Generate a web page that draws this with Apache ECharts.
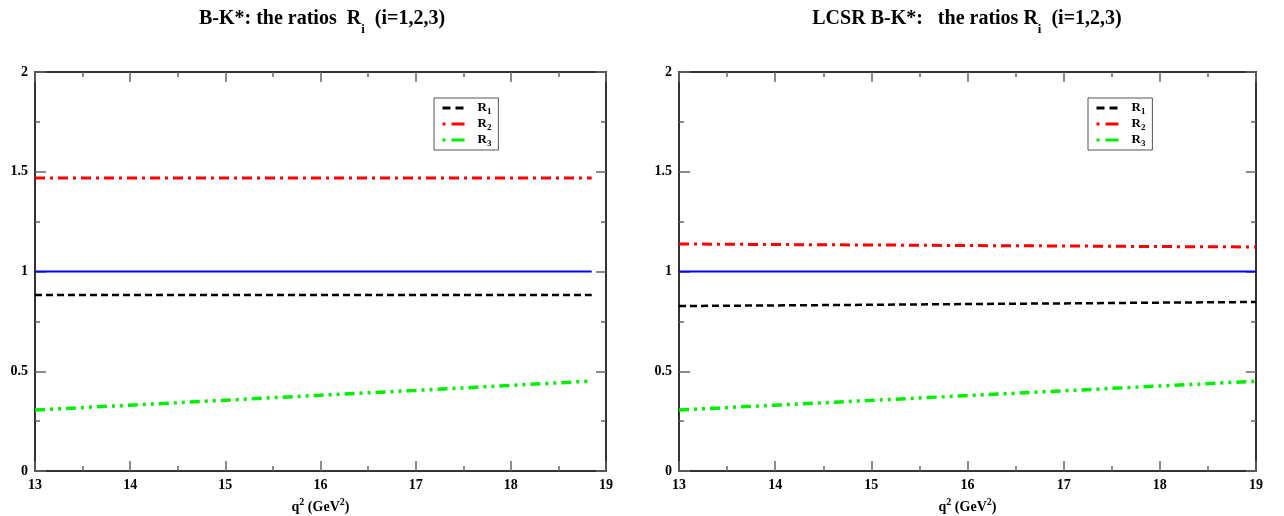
<!DOCTYPE html>
<html>
<head>
<meta charset="utf-8">
<script src="https://cdn.jsdelivr.net/npm/echarts@6/dist/echarts.min.js"></script>
<style>html,body{margin:0;padding:0;background:#fff}#c{width:1284px;height:516px}</style>
</head>
<body>
<div id="c"></div>
<script>
// ---- data ----
const xLeft = [13, 14, 15, 16, 17, 18, 18.85];
const leftR1 = [0.882, 0.882, 0.882, 0.882, 0.882, 0.882, 0.882];
const leftR2 = [1.469, 1.469, 1.469, 1.469, 1.469, 1.469, 1.469];
const leftR3 = [0.306, 0.330, 0.355, 0.380, 0.404, 0.429, 0.451];
const leftUnity = [1, 1, 1, 1, 1, 1, 1];

const xRight = [13, 14, 15, 16, 17, 18, 19];
const rightR1 = [0.827, 0.830, 0.833, 0.837, 0.840, 0.844, 0.847];
const rightR2 = [1.138, 1.135, 1.133, 1.130, 1.128, 1.125, 1.123];
const rightR3 = [0.306, 0.330, 0.354, 0.378, 0.402, 0.426, 0.450];
const rightUnity = [1, 1, 1, 1, 1, 1, 1];

const legendNames = ['R1', 'R2', 'R3'];
const titles = ['B-K*: the ratios  R{sub|i}  (i=1,2,3)', 'LCSR B-K*:   the ratios R{sub|i}  (i=1,2,3)'];
const xName = 'q{sup|2} (GeV{sup|2})';

const FONT = '"Liberation Serif", "DejaVu Serif", serif';

function pairs(xs, ys) { return xs.map((x, i) => [x, ys[i]]); }

const styles = {
  R1: { color: '#000000', width: 2.5, type: [7, 4], legendType: [8, 5] },
  R2: { color: '#ff0000', width: 3, type: [10, 5, 3, 5], legendType: [3, 6, 13, 20] },
  R3: { color: '#00ee00', width: 3.5, type: [10, 5, 3, 5, 3, 5], legendType: [3, 6, 13, 20] },
  unity: { color: '#0000ee', width: 2, type: 'solid' }
};

function mkSeries(name, idx, xs, ys) {
  const s = styles[name];
  return {
    name: name, type: 'line', xAxisIndex: idx, yAxisIndex: idx,
    data: pairs(xs, ys), showSymbol: false, symbol: 'none', smooth: false,
    lineStyle: { color: s.color, width: s.width, type: s.type },
    itemStyle: { color: s.color },
    animation: false, z: name === 'unity' ? 3 : 4
  };
}

const tickStyle = { color: '#666', width: 1.5 };
function xAxisMain(gi) {
  return {
    type: 'value', gridIndex: gi, min: 13, max: 19, interval: 1,
    name: xName, nameLocation: 'middle', nameGap: 26,
    nameTextStyle: {
      fontFamily: FONT, fontWeight: 'bold', fontSize: 14, color: '#000', lineHeight: 20,
      rich: { sup: { fontFamily: FONT, fontWeight: 'bold', fontSize: 10, verticalAlign: 'top', lineHeight: 10, color: '#000' } }
    },
    axisLine: { onZero: false, lineStyle: { color: '#333', width: 2 } },
    axisTick: { inside: true, length: 10, lineStyle: tickStyle },
    minorTick: { show: true, splitNumber: 2, length: 5, lineStyle: tickStyle },
    axisLabel: { fontFamily: FONT, fontWeight: 'bold', fontSize: 14, color: '#000', margin: 7 },
    splitLine: { show: false }
  };
}
function xAxisTop(gi) {
  return {
    type: 'value', gridIndex: gi, min: 13, max: 19, interval: 1, position: 'top',
    axisLine: { onZero: false, lineStyle: { color: '#333', width: 2 } },
    axisTick: { inside: true, length: 10, lineStyle: tickStyle },
    minorTick: { show: true, splitNumber: 2, length: 5, lineStyle: tickStyle },
    axisLabel: { show: false }, splitLine: { show: false }
  };
}
function yAxisMain(gi) {
  return {
    type: 'value', gridIndex: gi, min: 0, max: 2, interval: 0.5,
    axisLine: { onZero: false, lineStyle: { color: '#333', width: 2 } },
    axisTick: { inside: true, length: 11, lineStyle: tickStyle },
    minorTick: { show: true, splitNumber: 2, length: 5, lineStyle: tickStyle },
    axisLabel: { fontFamily: FONT, fontWeight: 'bold', fontSize: 14, color: '#000', margin: 7 },
    splitLine: { show: false }
  };
}
function yAxisRight(gi) {
  return {
    type: 'value', gridIndex: gi, min: 0, max: 2, interval: 0.5, position: 'right',
    axisLine: { onZero: false, lineStyle: { color: '#333', width: 2 } },
    axisTick: { inside: true, length: 10, lineStyle: tickStyle },
    minorTick: { show: true, splitNumber: 2, length: 5, lineStyle: tickStyle },
    axisLabel: { show: false }, splitLine: { show: false }
  };
}

function mkLegend(left) {
  return {
    data: legendNames.map(n => ({
      name: n,
      lineStyle: { color: styles[n].color, width: 3, type: styles[n].legendType }
    })),
    orient: 'vertical', left: left, top: 98,
    itemWidth: 22, itemHeight: 12, itemGap: 0,
    padding: [2, 7, 2, 7], borderColor: '#555', borderWidth: 1, borderRadius: 0,
    itemStyle: { color: 'rgba(0,0,0,0)', borderWidth: 0, opacity: 0 },
    formatter: n => 'R{sub|' + n.slice(1) + '}',
    textStyle: {
      fontFamily: FONT, fontWeight: 'bold', fontSize: 13, color: '#000', padding: [0, 0, 0, 8],
      lineHeight: 16,
      rich: { sub: { fontFamily: FONT, fontWeight: 'bold', fontSize: 9, verticalAlign: 'bottom', lineHeight: 9, color: '#000' } }
    },
    selectedMode: false
  };
}

function mkTitle(text, cx) {
  return {
    text: text, left: cx, textAlign: 'center', top: -3,
    textStyle: {
      fontFamily: FONT, fontWeight: 'bold', fontSize: 20, color: '#000', lineHeight: 34,
      rich: { sub: { fontFamily: FONT, fontWeight: 'bold', fontSize: 13, verticalAlign: 'bottom', lineHeight: 13, color: '#000' } }
    }
  };
}

const chart = echarts.init(document.getElementById('c'), null, { renderer: 'canvas' });
chart.setOption({
  animation: false,
  backgroundColor: '#fff',
  title: [mkTitle(titles[0], 317), mkTitle(titles[1], 962)],
  legend: [mkLegend(434), mkLegend(1088)],
  grid: [
    { left: 35, top: 72, width: 571, height: 399, containLabel: false, outerBoundsMode: 'none' },
    { left: 679, top: 72, width: 577, height: 399, containLabel: false, outerBoundsMode: 'none' }
  ],
  xAxis: [xAxisMain(0), xAxisMain(1), xAxisTop(0), xAxisTop(1)],
  yAxis: [yAxisMain(0), yAxisMain(1), yAxisRight(0), yAxisRight(1)],
  series: [
    mkSeries('unity', 0, xLeft, leftUnity),
    mkSeries('R1', 0, xLeft, leftR1),
    mkSeries('R2', 0, xLeft, leftR2),
    mkSeries('R3', 0, xLeft, leftR3),
    mkSeries('unity', 1, xRight, rightUnity),
    mkSeries('R1', 1, xRight, rightR1),
    mkSeries('R2', 1, xRight, rightR2),
    mkSeries('R3', 1, xRight, rightR3)
  ]
});
</script>
</body>
</html>
